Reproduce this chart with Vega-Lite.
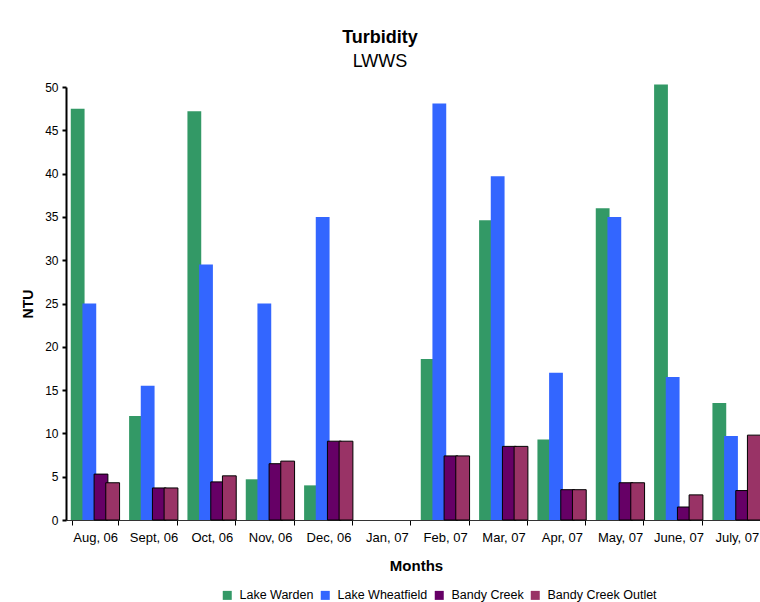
{
  "$schema": "https://vega.github.io/schema/vega-lite/v6.json",
  "autosize": {"type": "none"},
  "width": 694,
  "height": 433,
  "padding": {"left": 66, "top": 87, "right": 0, "bottom": 82},
  "background": "white",
  "config": {
    "font": "Liberation Sans",
    "view": {"stroke": null}
  },
  "title": {
    "text": "Turbidity",
    "subtitle": "LWWS",
    "anchor": "middle",
    "frame": "group",
    "dx": -33,
    "offset": 10,
    "fontSize": 18,
    "fontWeight": "bold",
    "font": "Liberation Sans",
    "subtitleFont": "Liberation Sans",
    "subtitleFontSize": 18,
    "subtitleColor": "black",
    "color": "black",
    "subtitlePadding": 6
  },
  "data": {
    "values": [
      {"month": "Aug, 06", "series": "Lake Warden", "ntu": 47.5},
      {"month": "Aug, 06", "series": "Lake Wheatfield", "ntu": 25.0},
      {"month": "Aug, 06", "series": "Bandy Creek", "ntu": 5.3},
      {"month": "Aug, 06", "series": "Bandy Creek Outlet", "ntu": 4.3},
      {"month": "Sept, 06", "series": "Lake Warden", "ntu": 12.0},
      {"month": "Sept, 06", "series": "Lake Wheatfield", "ntu": 15.5},
      {"month": "Sept, 06", "series": "Bandy Creek", "ntu": 3.7},
      {"month": "Sept, 06", "series": "Bandy Creek Outlet", "ntu": 3.7},
      {"month": "Oct, 06", "series": "Lake Warden", "ntu": 47.2},
      {"month": "Oct, 06", "series": "Lake Wheatfield", "ntu": 29.5},
      {"month": "Oct, 06", "series": "Bandy Creek", "ntu": 4.4},
      {"month": "Oct, 06", "series": "Bandy Creek Outlet", "ntu": 5.1},
      {"month": "Nov, 06", "series": "Lake Warden", "ntu": 4.7},
      {"month": "Nov, 06", "series": "Lake Wheatfield", "ntu": 25.0},
      {"month": "Nov, 06", "series": "Bandy Creek", "ntu": 6.5},
      {"month": "Nov, 06", "series": "Bandy Creek Outlet", "ntu": 6.8},
      {"month": "Dec, 06", "series": "Lake Warden", "ntu": 4.0},
      {"month": "Dec, 06", "series": "Lake Wheatfield", "ntu": 35.0},
      {"month": "Dec, 06", "series": "Bandy Creek", "ntu": 9.1},
      {"month": "Dec, 06", "series": "Bandy Creek Outlet", "ntu": 9.1},
      {"month": "Feb, 07", "series": "Lake Warden", "ntu": 18.6},
      {"month": "Feb, 07", "series": "Lake Wheatfield", "ntu": 48.1},
      {"month": "Feb, 07", "series": "Bandy Creek", "ntu": 7.4},
      {"month": "Feb, 07", "series": "Bandy Creek Outlet", "ntu": 7.4},
      {"month": "Mar, 07", "series": "Lake Warden", "ntu": 34.6},
      {"month": "Mar, 07", "series": "Lake Wheatfield", "ntu": 39.7},
      {"month": "Mar, 07", "series": "Bandy Creek", "ntu": 8.5},
      {"month": "Mar, 07", "series": "Bandy Creek Outlet", "ntu": 8.5},
      {"month": "Apr, 07", "series": "Lake Warden", "ntu": 9.3},
      {"month": "Apr, 07", "series": "Lake Wheatfield", "ntu": 17.0},
      {"month": "Apr, 07", "series": "Bandy Creek", "ntu": 3.5},
      {"month": "Apr, 07", "series": "Bandy Creek Outlet", "ntu": 3.5},
      {"month": "May, 07", "series": "Lake Warden", "ntu": 36.0},
      {"month": "May, 07", "series": "Lake Wheatfield", "ntu": 35.0},
      {"month": "May, 07", "series": "Bandy Creek", "ntu": 4.3},
      {"month": "May, 07", "series": "Bandy Creek Outlet", "ntu": 4.3},
      {"month": "June, 07", "series": "Lake Warden", "ntu": 50.3},
      {"month": "June, 07", "series": "Lake Wheatfield", "ntu": 16.5},
      {"month": "June, 07", "series": "Bandy Creek", "ntu": 1.5},
      {"month": "June, 07", "series": "Bandy Creek Outlet", "ntu": 2.9},
      {"month": "July, 07", "series": "Lake Warden", "ntu": 13.5},
      {"month": "July, 07", "series": "Lake Wheatfield", "ntu": 9.7},
      {"month": "July, 07", "series": "Bandy Creek", "ntu": 3.4},
      {"month": "July, 07", "series": "Bandy Creek Outlet", "ntu": 9.8}
    ]
  },
  "mark": {"type": "bar", "width": 13.8, "stroke": "black", "strokeWidth": 1, "clip": false},
  "encoding": {
    "x": {
      "field": "month",
      "type": "nominal",
      "sort": null,
      "scale": {
        "domain": ["Aug, 06", "Sept, 06", "Oct, 06", "Nov, 06", "Dec, 06", "Jan, 07", "Feb, 07", "Mar, 07", "Apr, 07", "May, 07", "June, 07", "July, 07"],
        "range": [0, 700],
        "paddingInner": 0.2,
        "paddingOuter": 0.1
      },
      "axis": {
        "title": "Months",
        "titleFontSize": 15,
        "titleFontWeight": "bold",
        "titleColor": "black",
        "titlePadding": 14,
        "labelAngle": 0,
        "labelFontSize": 13,
        "labelColor": "black",
        "labelPadding": 6,
        "tickBand": "extent",
        "tickSize": 5,
        "tickColor": "black",
        "domainColor": "#333333",
        "domainWidth": 1,
        "grid": false
      }
    },
    "xOffset": {
      "field": "series",
      "type": "nominal",
      "scale": {
        "domain": ["Lake Warden", "Lake Wheatfield", "Bandy Creek", "Bandy Creek Outlet"],
        "paddingInner": 0,
        "paddingOuter": 0
      }
    },
    "y": {
      "field": "ntu",
      "type": "quantitative",
      "scale": {"domain": [0, 50], "nice": false},
      "axis": {
        "title": "NTU",
        "titleFontSize": 14,
        "titleFontWeight": "bold",
        "titleColor": "black",
        "titlePadding": 9,
        "values": [0, 5, 10, 15, 20, 25, 30, 35, 40, 45, 50],
        "labelFontSize": 12,
        "labelColor": "black",
        "labelPadding": 4,
        "tickSize": 4,
        "tickColor": "black",
        "tickWidth": 2,
        "domainColor": "black",
        "domainWidth": 2,
        "grid": false
      }
    },
    "color": {
      "field": "series",
      "type": "nominal",
      "scale": {
        "domain": ["Lake Warden", "Lake Wheatfield", "Bandy Creek", "Bandy Creek Outlet"],
        "range": ["#339966", "#3366ff", "#660066", "#993366"]
      },
      "legend": {
        "title": null,
        "orient": "none",
        "legendX": 155,
        "legendY": 502,
        "direction": "horizontal",
        "symbolType": "square",
        "symbolSize": 81,
        "symbolStrokeWidth": 0,
        "labelFontSize": 12.5,
        "labelColor": "black",
        "labelOffset": 6,
        "columnPadding": 5
      }
    },
    "strokeOpacity": {
      "condition": {"test": "indexof(datum.series, 'Bandy') >= 0", "value": 1},
      "value": 0
    }
  }
}
